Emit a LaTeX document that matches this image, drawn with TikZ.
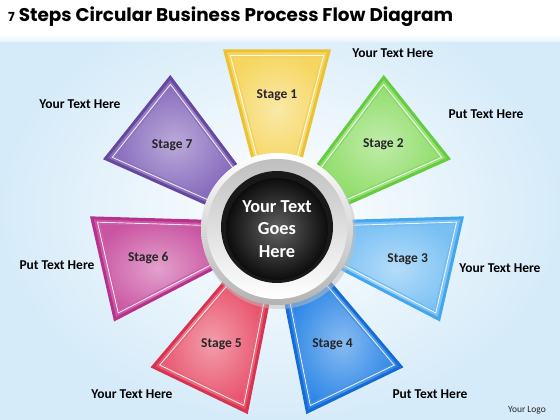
\documentclass[tikz,border=0pt]{standalone}
\usepackage{fontspec}
\setmainfont{Carlito}
\newfontfamily\titlefont{Poppins}
\definecolor{bgblue}{RGB}{214,235,249}
\definecolor{c1f}{RGB}{246,214,96}\definecolor{c1d}{RGB}{236,194,50}
\definecolor{c2f}{RGB}{140,220,100}\definecolor{c2d}{RGB}{100,204,64}
\definecolor{c3f}{RGB}{120,192,244}\definecolor{c3d}{RGB}{68,166,236}
\definecolor{c4f}{RGB}{40,132,230}\definecolor{c4d}{RGB}{22,108,212}
\definecolor{c5f}{RGB}{232,78,104}\definecolor{c5d}{RGB}{214,52,80}
\definecolor{c6f}{RGB}{202,84,162}\definecolor{c6d}{RGB}{182,50,140}
\definecolor{c7f}{RGB}{130,100,186}\definecolor{c7d}{RGB}{102,72,158}
\tikzset{
  stagelab/.style={font=\bfseries\fontsize{13.5}{15}\selectfont, text=black!85},
  outlab/.style={font=\bfseries\fontsize{13.5}{15}\selectfont, text=black},
}
\begin{document}
\begin{tikzpicture}[x=1pt,y=1pt]
\useasboundingbox (0,0) rectangle (560,420);
\fill[inner color=white, outer color=bgblue] (0,0) rectangle (560,420);
\fill[white] (0,384) rectangle (560,420);
\fill[top color=white, bottom color=bgblue!60] (0,378) rectangle (560,386);
\node[anchor=west, inner sep=0pt, font=\titlefont\bfseries\fontsize{18.4}{22}\selectfont] (title) at (8,403) {{\fontsize{12.5}{14}\selectfont 7} Steps Circular Business Process Flow Diagram};
\foreach \k/\d in {1/134,2/136,3/134,4/128,5/128,6/132,7/134}{
  \begin{scope}[shift={(277,191)}, rotate={90-(\k-1)*360/7}]
    \fill[inner color=c\k f!55!white, outer color=c\k f] (60,-21.4) -- (178,-52) -- (178,52) -- (60,21.4) -- cycle;
    \draw[c\k d, line width=3pt, line join=miter] (60,-21.4) -- (178,-52) -- (178,52) -- (60,21.4) -- cycle;
    \draw[white, opacity=0.85, line width=0.9pt] (62,-17.6) -- (173.5,-46.6) -- (173.5,46.6) -- (62,17.6) -- cycle;
    \draw[c\k d!75!white, line width=1.2pt] (63,-16.4) -- (172,-44.8) -- (172,44.8) -- (63,16.4) -- cycle;
    \node[stagelab] (s\k) at (\d,0) {Stage \k};
  \end{scope}
}
% center
\fill[black!25, opacity=0.5] (279,188) circle (77);
\shade[top color=white, bottom color=black!30] (277,191) circle (76);
\shade[top color=black!25, bottom color=white] (277,191) circle (70);
\fill[black!90] (277,193) circle (56);
\shade[inner color=black!62, outer color=black!95] (277,191) circle (51);
\node[font=\bfseries\fontsize{18.3}{22.5}\selectfont, text=white, align=center] (center) at (277,191) {Your Text\\Goes\\Here};
% outer labels
\node[outlab] (t1) at (393,367) {Your Text Here};
\node[outlab] (t2) at (486,306) {Put Text Here};
\node[outlab] (t3) at (500,152) {Your Text Here};
\node[outlab] (t4) at (430,26) {Put Text Here};
\node[outlab] (t5) at (132,26) {Your Text Here};
\node[outlab] (t6) at (57,155) {Put Text Here};
\node[outlab] (t7) at (80,316) {Your Text Here};
\node[font=\fontsize{9.5}{11}\selectfont, text=black!85] (logo) at (527,10) {Your Logo};
\end{tikzpicture}
\end{document}
